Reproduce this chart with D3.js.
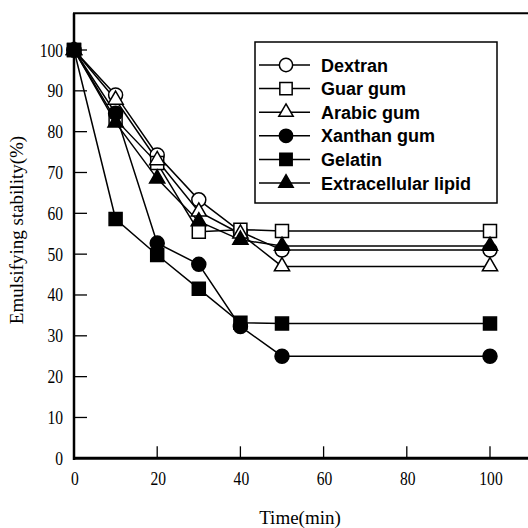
<!DOCTYPE html>
<html>
<head>
<meta charset="utf-8">
<script src="https://cdn.jsdelivr.net/npm/d3@7"></script>
<style>
  body { margin: 0; background: #fff; }
  svg { display: block; }
</style>
</head>
<body>
<svg id="chart" width="528" height="528"></svg>
<script>
// data
var time = [0, 10, 20, 30, 40, 50, 100];
var dextran = [100, 89, 74.3, 63.3, 55.5, 51, 51];
var guarGum = [100, 83, 72.3, 55.5, 56, 55.7, 55.7];
var arabicGum = [100, 87.8, 73, 60.4, 55, 47, 47];
var xanthanGum = [100, 84.5, 52.7, 47.5, 32.3, 25, 25];
var gelatin = [100, 58.6, 49.8, 41.5, 33.2, 33, 33];
var lipid = [100, 82.2, 68.5, 58, 53.5, 52, 52];

var seriesNames = ["Dextran", "Guar gum", "Arabic gum", "Xanthan gum", "Gelatin", "Extracellular lipid"];
var seriesValues = [dextran, guarGum, arabicGum, xanthanGum, gelatin, lipid];

var xTicks = [0, 20, 40, 60, 80, 100];
var yTicks = [0, 10, 20, 30, 40, 50, 60, 70, 80, 90, 100];

// marker styles
var symbols = [d3.symbolCircle, d3.symbolSquare, d3.symbolTriangle, d3.symbolCircle, d3.symbolSquare, d3.symbolTriangle];
var symSizes = [154, 169, 100, 154, 169, 100];
var fills = ["#fff", "#fff", "#fff", "#000", "#000", "#000"];

var svg = d3.select("#chart");

var x = d3.scaleLinear().domain([0, 110]).range([74, 531.6]);
var y = d3.scaleLinear().domain([0, 100]).range([458.3, 50]);

// frame: left, bottom, top
svg.append("line").attr("x1", 74).attr("x2", 74).attr("y1", y(109)).attr("y2", 460)
    .attr("stroke", "#000").attr("stroke-width", 2.5);
svg.append("line").attr("x1", 73).attr("x2", 528).attr("y1", y(0)).attr("y2", y(0))
    .attr("stroke", "#000").attr("stroke-width", 3);
svg.append("line").attr("x1", 73).attr("x2", 528).attr("y1", y(109)).attr("y2", y(109))
    .attr("stroke", "#000").attr("stroke-width", 2);

// inward ticks
svg.selectAll(".ytick").data(yTicks.slice(1)).enter().append("line")
    .attr("x1", 74).attr("x2", 87)
    .attr("y1", function(d) { return y(d); }).attr("y2", function(d) { return y(d); })
    .attr("stroke", "#000").attr("stroke-width", 1.3);
svg.selectAll(".xtick").data(xTicks.slice(1)).enter().append("line")
    .attr("x1", function(d) { return x(d); }).attr("x2", function(d) { return x(d); })
    .attr("y1", y(0)).attr("y2", y(0) - 12)
    .attr("stroke", "#000").attr("stroke-width", 1.3);

// tick labels (narrow serif)
svg.selectAll(".ylab").data(yTicks).enter().append("text")
    .attr("transform", function(d) { return "translate(63," + (y(d) + 6.5) + ") scale(0.82,1)"; })
    .attr("text-anchor", "end")
    .style("font-family", "'Liberation Serif', serif").style("font-size", "19px")
    .text(function(d) { return d; });
svg.selectAll(".xlab").data(xTicks).enter().append("text")
    .attr("transform", function(d) { return "translate(" + (x(d) + 1) + ",485) scale(0.82,1)"; })
    .attr("text-anchor", "middle")
    .style("font-family", "'Liberation Serif', serif").style("font-size", "19px")
    .text(function(d) { return d; });

// axis titles
svg.append("text")
    .attr("x", 300).attr("y", 524)
    .attr("text-anchor", "middle")
    .style("font-family", "'Liberation Serif', serif").style("font-size", "19px")
    .text("Time(min)");
svg.append("text")
    .attr("transform", "translate(23,230) rotate(-90)")
    .attr("text-anchor", "middle")
    .style("font-family", "'Liberation Serif', serif").style("font-size", "19px")
    .text("Emulsifying stability(%)");

// lines
var line = d3.line()
    .x(function(d, i) { return x(time[i]); })
    .y(function(d) { return y(d); });

svg.selectAll(".series").data(seriesValues).enter().append("path")
    .attr("d", function(d) { return line(d); })
    .attr("fill", "none").attr("stroke", "#000").attr("stroke-width", 1.5);

// markers
seriesValues.forEach(function(vals, s) {
    var sym = d3.symbol().type(symbols[s]).size(symSizes[s]);
    svg.selectAll(".m" + s).data(vals).enter().append("path")
        .attr("d", sym)
        .attr("transform", function(d, i) { return "translate(" + x(time[i]) + "," + y(d) + ")"; })
        .attr("fill", fills[s]).attr("stroke", "#000").attr("stroke-width", 1.5);
});

// legend
var lg = svg.append("g");
lg.append("rect").attr("x", 255).attr("y", 42).attr("width", 242).attr("height", 161)
    .attr("fill", "#fff").attr("stroke", "#000").attr("stroke-width", 1.5);
seriesNames.forEach(function(name, s) {
    var ry = 65 + s * 23.6;
    lg.append("line").attr("x1", 259).attr("x2", 310).attr("y1", ry).attr("y2", ry)
        .attr("stroke", "#000").attr("stroke-width", 1.5);
    lg.append("path").attr("d", d3.symbol().type(symbols[s]).size(symSizes[s] * 0.9))
        .attr("transform", "translate(286," + ry + ")")
        .attr("fill", fills[s]).attr("stroke", "#000").attr("stroke-width", 1.5);
    lg.append("text").attr("x", 321).attr("y", ry + 6.5)
        .style("font-family", "'Liberation Sans', Arial, sans-serif")
        .style("font-weight", "bold").style("font-size", "18px")
        .text(name);
});
</script>
</body>
</html>
